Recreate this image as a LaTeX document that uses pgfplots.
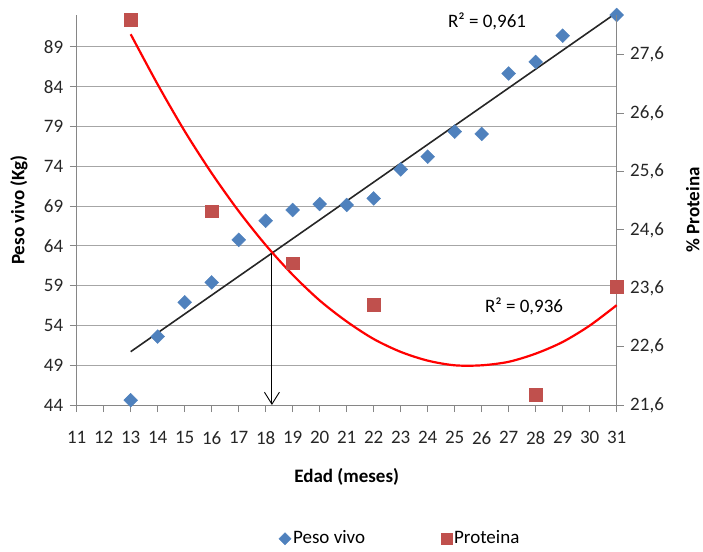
\documentclass[border=0pt]{standalone}
\usepackage{fontspec}
\setmainfont{Carlito}
\usepackage{pgfplots}
\pgfplotsset{compat=1.18}
\usetikzlibrary{arrows.meta}
\definecolor{pvblue}{HTML}{4F81BD}
\definecolor{prred}{HTML}{C0504D}
\definecolor{axgray}{HTML}{868686}
\definecolor{grgray}{HTML}{A6A6A6}
\pgfplotsset{
  common/.style={
    at={(0,0)}, anchor=south west,
    scale only axis, width=540pt, height=390pt,
    xmin=11, xmax=31,
    clip=false,
    font=\fontsize{19}{23}\selectfont,
    axis line style={axgray, line width=0.8pt, -},
    tick style={axgray, line width=0.8pt},
    tick align=outside, major tick length=7pt,
    ticklabel style={text=black!85},
    /pgf/number format/assume math mode=true,
  },
  legend image code/.code={\draw[mark repeat=2,mark phase=2,#1] plot coordinates {(0pt,0pt) (6pt,0pt) (12pt,0pt)};},
}
\begin{document}
\fontsize{19}{23}\selectfont
\begin{tikzpicture}
\path[use as bounding box] (-76.7pt,-146pt) rectangle (626.3pt,405pt);
\begin{axis}[
  common,
  ymin=44, ymax=93,
  xtick={11,...,31}, ytick={44,49,...,89},
  xticklabel style={yshift=-13pt},
  axis x line*=bottom, axis y line*=left,
  ymajorgrids, grid style={grgray, line width=0.8pt},
  xlabel={\textbf{Edad (meses)}},
  xlabel style={at={(axis description cs:0.5,-0.185)}, anchor=center},
  ylabel={\textbf{Peso vivo (Kg)}},
  ylabel style={at={(axis description cs:-0.107,0.5)}, anchor=center},
]
\addplot[only marks, mark=square*, mark size=4.9pt, mark options={rotate=45, fill=pvblue, draw=pvblue}] coordinates {
(13,44.6) (14,52.6) (15,56.9) (16,59.4) (17,64.75) (18,67.15) (19,68.5) (20,69.25) (21,69.13)
(22,69.95) (23,73.6) (24,75.2) (25,78.35) (26,78.05) (27,85.65) (28,87.1) (29,90.4) (31,93.0)};
\addplot[black!85, line width=1.6pt] coordinates {(13,50.7) (31,93.3)};
\draw[black, line width=0.9pt, -{Straight Barb[length=12pt,width=15pt]}] (axis cs:18.23,63.1) -- (axis cs:18.23,44);
\node[anchor=base] at (axis cs:26.2,91.39) {R² = 0,961};
\node[anchor=base] at (axis cs:27.57,55.58) {R² = 0,936};
\end{axis}
\begin{axis}[
  common,
  ymin=21.6, ymax=28.28,
  axis x line=none, axis y line*=right,
  ytick={21.6,22.6,23.6,24.6,25.6,26.6,27.6},
  yticklabel style={/pgf/number format/fixed, /pgf/number format/fixed zerofill, /pgf/number format/precision=1, /pgf/number format/use comma},
  ylabel={\textbf{\% Proteina}},
  ylabel style={at={(axis description cs:1.141,0.5)}, anchor=center},
  legend style={at={(axis description cs:0.599,-0.343)}, anchor=center, draw=none, fill=none,
    legend columns=2, font=\fontsize{19}{23}\selectfont,
    /tikz/every even column/.append style={column sep=74pt}},
]
\addlegendimage{only marks, mark=square*, mark size=4.3pt, mark options={rotate=45, fill=pvblue, draw=pvblue}}
\addlegendentry{Peso vivo}
\addlegendimage{only marks, mark=square*, mark size=5.5pt, mark options={fill=prred, draw=prred}}
\addlegendentry{Proteina}
\addplot[only marks, mark=square*, mark size=6.3pt, mark options={fill=prred, draw=prred}, forget plot] coordinates {
(13,28.20) (16,24.92) (19,24.03) (22,23.32) (28,21.78) (31,23.63)};
\addplot[red, line width=2.2pt, smooth, forget plot] coordinates {
(13,27.95) (14,27.09) (15,26.29) (16,25.57) (17,24.92) (18,24.34) (19,23.83) (20,23.39) (21,23.03)
(22,22.73) (23,22.51) (24,22.36) (25,22.28) (26,22.28) (27,22.34) (28,22.48) (29,22.68) (30,22.96) (31,23.31)};
\end{axis}
\end{tikzpicture}
\end{document}
